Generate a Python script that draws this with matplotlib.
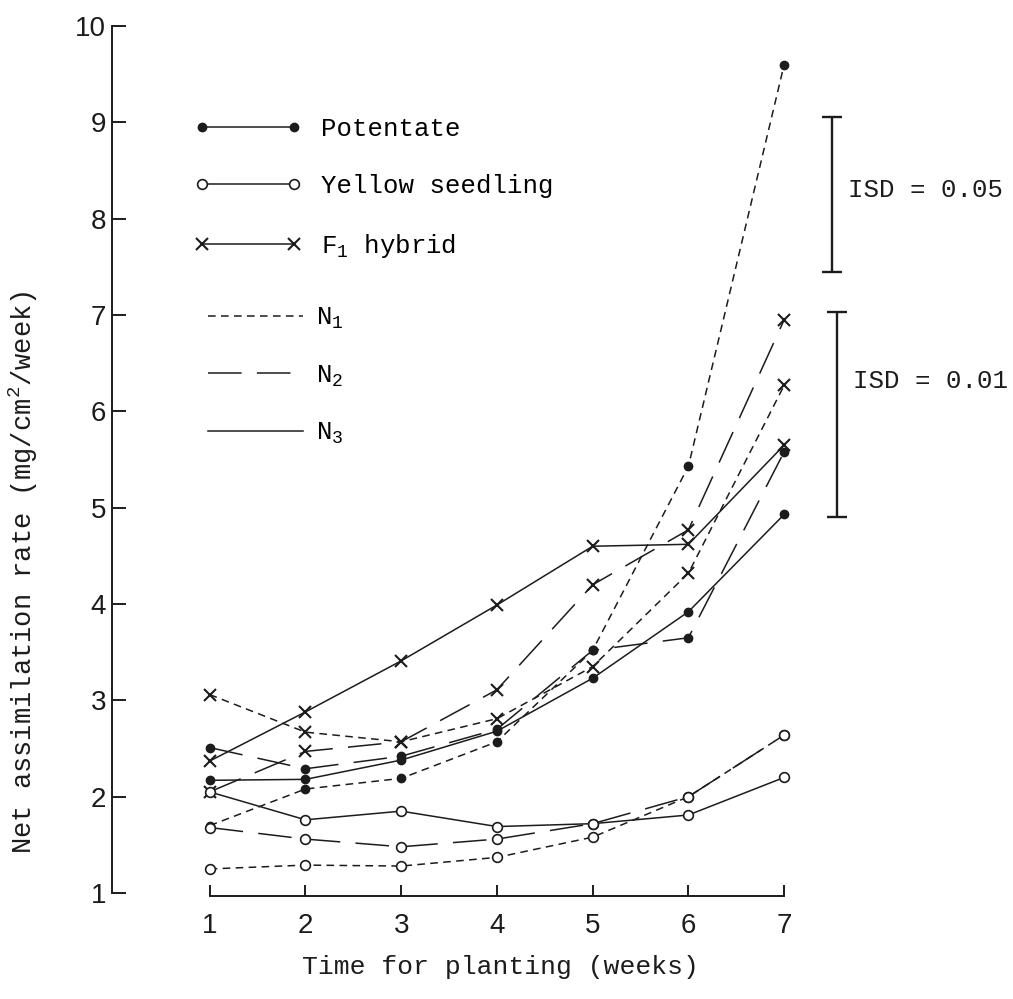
import matplotlib
matplotlib.use('Agg')
import matplotlib.pyplot as plt
from matplotlib.lines import Line2D

plt.rcParams['font.family'] = ['Liberation Mono', 'DejaVu Sans']
plt.rcParams['mathtext.fontset'] = 'custom'
plt.rcParams['mathtext.rm'] = 'Liberation Mono'
plt.rcParams['mathtext.it'] = 'Liberation Mono'

# weeks after planting
weeks = [1, 2, 3, 4, 5, 6, 7]

# net assimilation rate (mg/cm2/week)
pot_n1 = [1.70, 2.08, 2.19, 2.57, 3.52, 5.43, 9.60]
pot_n2 = [2.51, 2.29, 2.42, 2.70, 3.52, 3.65, 5.58]
pot_n3 = [2.17, 2.18, 2.38, 2.68, 3.23, 3.92, 4.93]
ys_n1 = [1.25, 1.29, 1.28, 1.37, 1.58, 2.00, 2.64]
ys_n2 = [1.68, 1.56, 1.48, 1.56, 1.72, 2.00, 2.64]
ys_n3 = [2.05, 1.76, 1.85, 1.69, 1.72, 1.81, 2.20]
f1_n1 = [3.06, 2.67, 2.57, 2.81, 3.35, 4.32, 6.27]
f1_n2 = [2.05, 2.47, 2.57, 3.11, 4.20, 4.77, 6.95]
f1_n3 = [2.37, 2.88, 3.41, 3.99, 4.60, 4.62, 5.65]

# least significant difference bars (top, length)
lsd_labels = ['ISD = 0.05', 'ISD = 0.01']
lsd_top = [9.06, 7.03]
lsd_len = [1.61, 2.13]

ink = '#1c1c1c'
lw = 1.1
short_dash = (0, (5, 3.5))
long_dash = (0, (22, 10))
styles = {'N1': short_dash, 'N2': long_dash, 'N3': '-'}

pot_mk = dict(marker='o', ms=6, mfc=ink, mec=ink)
ys_mk = dict(marker='o', ms=7, mfc='white', mec=ink, mew=1.2)
f1_mk = dict(marker='x', ms=8, mec=ink, mew=1.5)

fig = plt.figure(figsize=(10.13, 9.99), dpi=100)
ax = fig.add_axes([0, 0, 1, 1])
ax.set_xlim(-1.19, 9.39)
ax.set_ylim(-0.10, 10.27)

series = [
    (pot_n1, 'N1', pot_mk), (pot_n2, 'N2', pot_mk), (pot_n3, 'N3', pot_mk),
    (f1_n1, 'N1', f1_mk), (f1_n2, 'N2', f1_mk), (f1_n3, 'N3', f1_mk),
    (ys_n1, 'N1', ys_mk), (ys_n2, 'N2', ys_mk), (ys_n3, 'N3', ys_mk),
]
for vals, lvl, mk in series:
    ax.plot(weeks, vals, color=ink, lw=lw, ls=styles[lvl], **mk)

# LSD bars, label next to each bar
label_shift = [0.04, 0.35]
for lab, top, ln, xb, sh in zip(lsd_labels, lsd_top, lsd_len, [7.50, 7.55], label_shift):
    ax.errorbar([xb], [top - ln / 2], yerr=[ln / 2], color=ink, lw=1.7,
                capsize=7, capthick=1.7, fmt='none')
    ax.text(xb + 0.17, top - ln / 2 + sh, lab, fontsize=18.5,
            va='center', ha='left', color=ink)

# axes in the old "broken" style
for s in ['top', 'right']:
    ax.spines[s].set_visible(False)
ax.spines['left'].set_position(('data', -0.024))
ax.spines['left'].set_bounds(1, 10)
ax.spines['bottom'].set_position(('data', 0.97))
ax.spines['bottom'].set_bounds(1, 7)
for s in ['left', 'bottom']:
    ax.spines[s].set_linewidth(1.4)
    ax.spines[s].set_color(ink)

ax.set_yticks(range(1, 11))
ax.set_xticks(weeks)
ax.tick_params(axis='y', direction='in', length=10, width=1.4, pad=4,
               labelsize=20, colors=ink)
ax.tick_params(axis='x', direction='in', length=8, width=1.4, pad=12,
               labelsize=20, colors=ink)
for t in ax.get_xticklabels() + ax.get_yticklabels():
    t.set_family('Liberation Sans')

ax.set_xlabel('Time for planting (weeks)', fontsize=19, color=ink)
ax.xaxis.set_label_coords(500 / 1013, 1 - 955 / 999)
ax.set_ylabel('Net assimilation rate (mg/cm$^2$/week)', fontsize=19.5, color=ink)
ax.yaxis.set_label_coords(40 / 1013, 1 - 572 / 999)

# legends: varieties, then nitrogen levels
var_handles = [
    Line2D([], [], color=ink, lw=lw, **pot_mk),
    Line2D([], [], color=ink, lw=lw, **ys_mk),
    Line2D([], [], color=ink, lw=lw, **f1_mk),
]
leg1 = ax.legend(var_handles, ['Potentate', 'Yellow seedling', 'F$_1$ hybrid'],
                 loc='upper left', bbox_to_anchor=(194 / 1013, 1 - 117 / 999),
                 bbox_transform=fig.transFigure, frameon=False, numpoints=2,
                 fontsize=18.5, handlelength=4.2, handletextpad=0.75,
                 labelspacing=1.3, borderpad=0, borderaxespad=0)
ax.add_artist(leg1)

n_handles = [Line2D([], [], color=ink, lw=lw, ls=styles[k]) for k in ['N1', 'N2', 'N3']]
ax.legend(n_handles, ['N$_1$', 'N$_2$', 'N$_3$'],
          loc='upper left', bbox_to_anchor=(208 / 1013, 1 - 306 / 999),
          bbox_transform=fig.transFigure, frameon=False,
          fontsize=18.5, handlelength=3.7, handletextpad=0.5,
          labelspacing=1.25, borderpad=0, borderaxespad=0)

fig.savefig('out.png', dpi=100, facecolor='white')
